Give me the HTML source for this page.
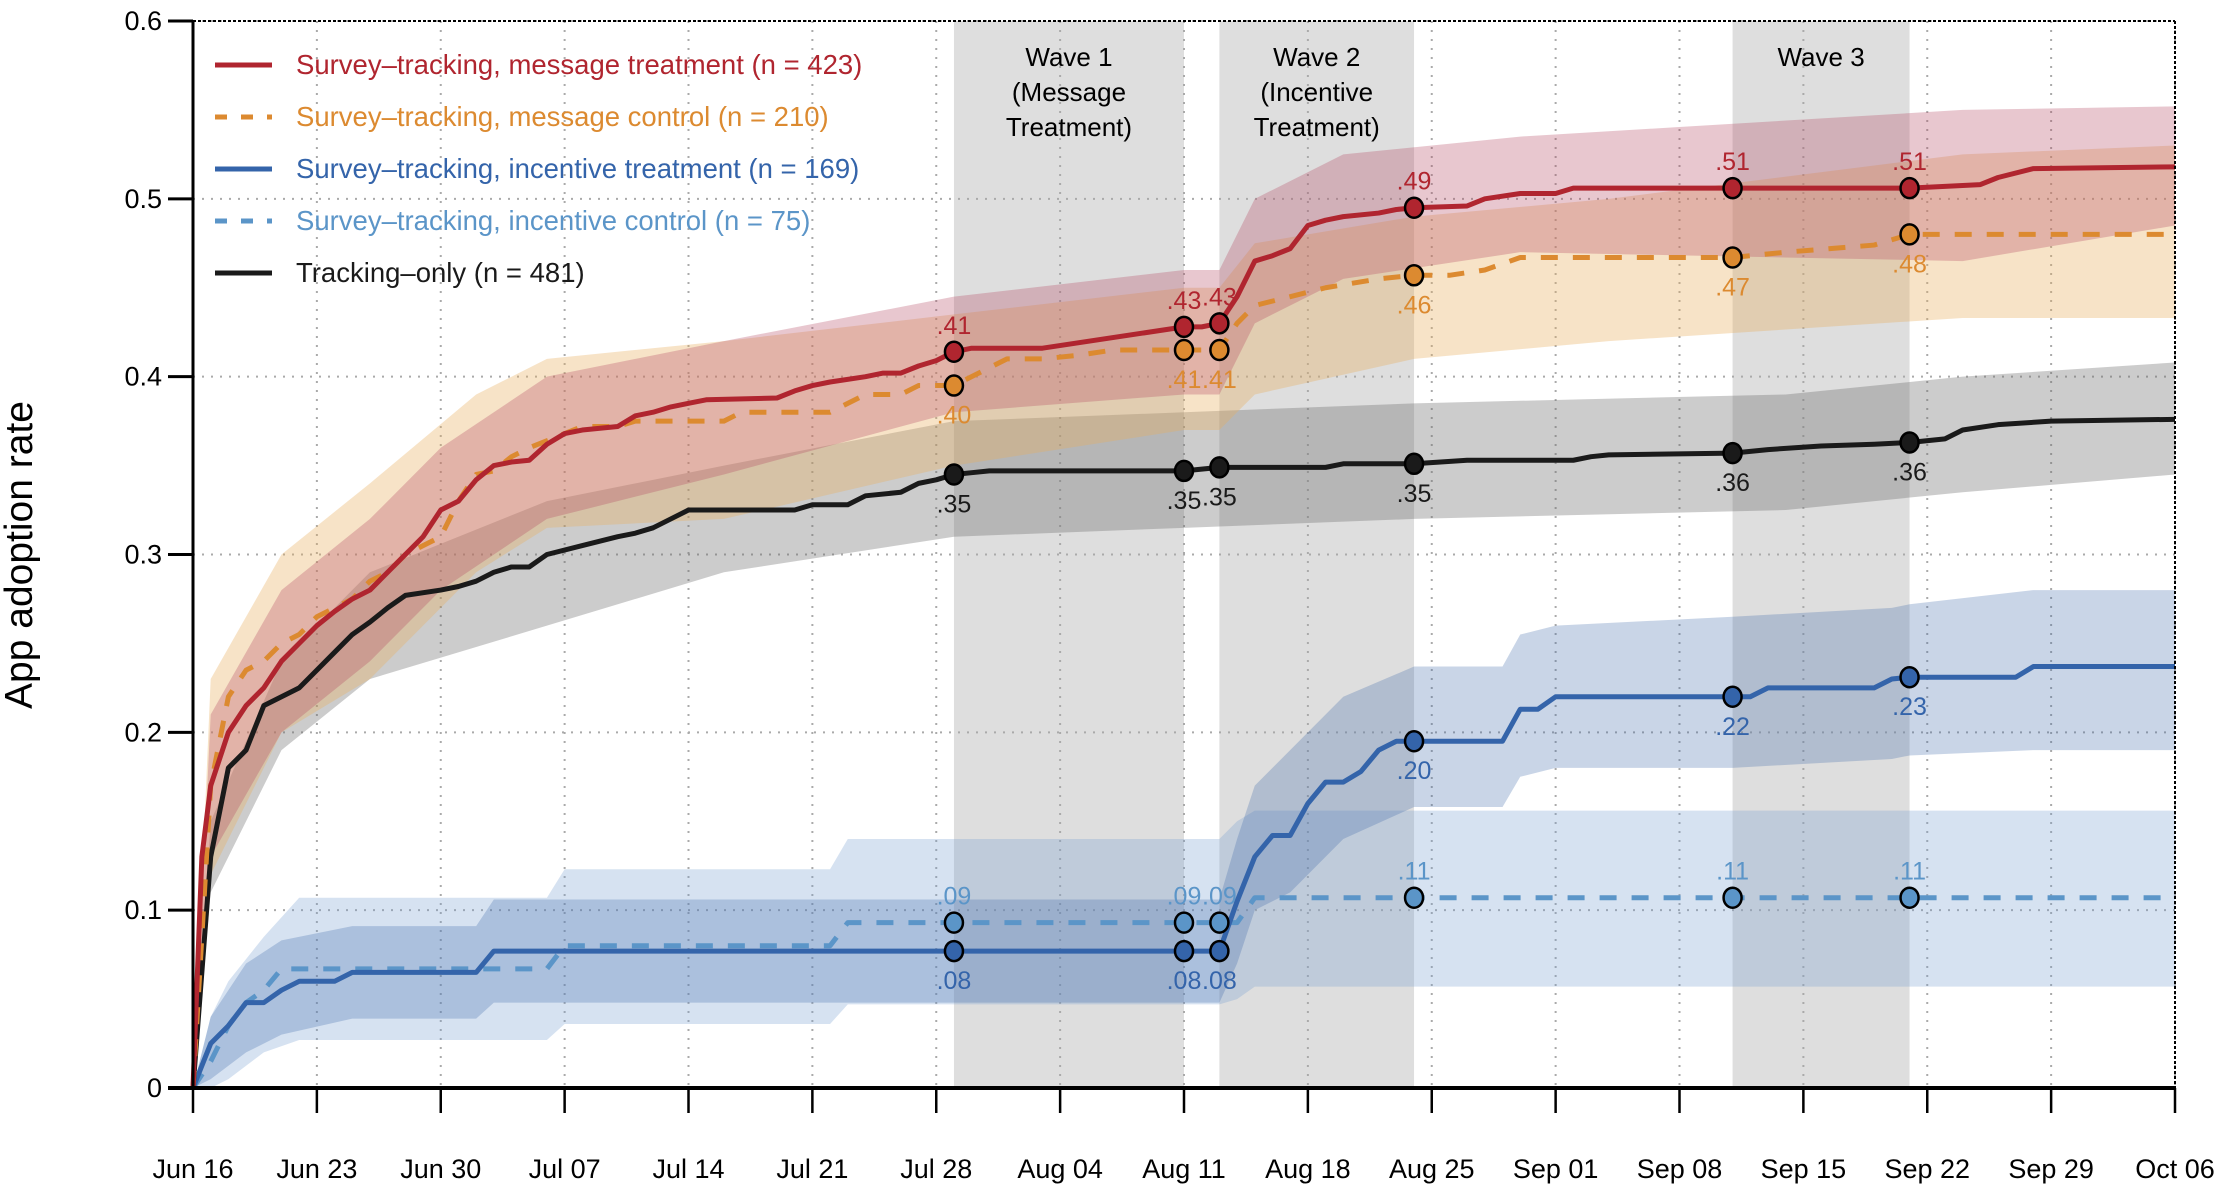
<!DOCTYPE html>
<html><head><meta charset="utf-8">
<style>
html,body{margin:0;padding:0;background:#fff;}
svg{display:block;font-family:"Liberation Sans",sans-serif;}
</style></head>
<body>
<svg id="chart" width="2222" height="1200" viewBox="0 0 2222 1200" xmlns="http://www.w3.org/2000/svg"></svg>
<script>
// ---- data ----
const xTickLabels = ["Jun 16","Jun 23","Jun 30","Jul 07","Jul 14","Jul 21","Jul 28","Aug 04","Aug 11","Aug 18","Aug 25","Sep 01","Sep 08","Sep 15","Sep 22","Sep 29","Oct 06"];
const yTickValues = [0,0.1,0.2,0.3,0.4,0.5,0.6];
const yTickLabels = ["0","0.1","0.2","0.3","0.4","0.5","0.6"];
const waveStart = [43,58,87];
const waveEnd = [56,69,97];
const waveTitles = [["Wave 1","(Message","Treatment)"],["Wave 2","(Incentive","Treatment)"],["Wave 3"]];
const markerDays = [43,56,58,69,87,97];

const redDays = [0,0.5,1,2,3,4,5,6,7,8,9,10,11,12,13,14,15,16,17,18,19,20,21,22,24,25,26,27,28,29,33,34,35,36,38,39,40,41,42,43,44,48,56,57,58,59,60,61,62,63,64,65,67,68,69,72,73,75,77,78,87,97,101,102,104,112];
const redVals = [0,0.13,0.17,0.2,0.215,0.225,0.24,0.25,0.26,0.268,0.275,0.28,0.29,0.3,0.31,0.325,0.33,0.342,0.35,0.352,0.353,0.362,0.368,0.37,0.372,0.378,0.38,0.383,0.385,0.387,0.388,0.392,0.395,0.397,0.4,0.402,0.402,0.406,0.409,0.414,0.416,0.416,0.428,0.428,0.43,0.445,0.465,0.468,0.472,0.485,0.488,0.49,0.492,0.494,0.495,0.496,0.5,0.503,0.503,0.506,0.506,0.506,0.508,0.512,0.517,0.518];
const orangeDays = [0,1,2,3,4,5,6,7,8,9,10,11,12,13,14,15,16,17,18,19,21,22,24,25,30,31,36,37,38,40,41,43,44,46,48,50,52,56,58,59,60,62,64,67,69,71,73,75,87,90,95,97,112];
const orangeVals = [0,0.17,0.22,0.235,0.24,0.25,0.255,0.265,0.27,0.275,0.285,0.29,0.3,0.305,0.31,0.33,0.345,0.347,0.355,0.36,0.368,0.372,0.372,0.375,0.375,0.38,0.38,0.385,0.39,0.39,0.395,0.395,0.4,0.41,0.41,0.412,0.415,0.415,0.415,0.43,0.44,0.445,0.45,0.455,0.457,0.457,0.46,0.467,0.467,0.47,0.474,0.48,0.48];
const blackDays = [0,1,2,3,4,5,6,7,8,9,10,11,12,14,15,16,17,18,19,20,22,24,25,26,27,28,34,35,37,38,40,41,42,43,44,45,56,58,64,65,69,72,78,79,80,87,89,92,95,97,99,100,102,105,112];
const blackVals = [0,0.13,0.18,0.19,0.215,0.22,0.225,0.235,0.245,0.255,0.262,0.27,0.277,0.28,0.282,0.285,0.29,0.293,0.293,0.3,0.305,0.31,0.312,0.315,0.32,0.325,0.325,0.328,0.328,0.333,0.335,0.34,0.342,0.345,0.346,0.347,0.347,0.349,0.349,0.351,0.351,0.353,0.353,0.355,0.356,0.357,0.359,0.361,0.362,0.363,0.365,0.37,0.373,0.375,0.376];
const blueDays = [0,1,2,3,4,5,6,8,9,16,17,56,58,59,60,61,62,63,64,65,66,67,68,69,74,75,76,77,87,88,89,95,96,97,103,104,112];
const blueVals = [0,0.025,0.035,0.048,0.048,0.055,0.06,0.06,0.065,0.065,0.077,0.077,0.077,0.105,0.13,0.142,0.142,0.16,0.172,0.172,0.178,0.19,0.195,0.195,0.195,0.213,0.213,0.22,0.22,0.22,0.225,0.225,0.23,0.231,0.231,0.237,0.237];
const ltblueDays = [0,1,2,3,4,5,20,21,36,37,58,59,60,112];
const ltblueVals = [0,0.015,0.035,0.048,0.055,0.067,0.067,0.08,0.08,0.093,0.093,0.093,0.107,0.107];

const redBandDays = [0,1,5,10,14,20,30,43,56,58,60,65,75,100,112];
const redBandHi = [0,0.21,0.28,0.32,0.36,0.4,0.42,0.445,0.46,0.46,0.5,0.525,0.535,0.55,0.552];
const redBandLo = [0,0.13,0.2,0.24,0.28,0.32,0.345,0.38,0.39,0.39,0.43,0.455,0.47,0.465,0.485];
const orangeBandDays = [0,1,5,10,16,20,30,43,56,58,60,69,80,100,112];
const orangeBandHi = [0,0.23,0.3,0.34,0.39,0.41,0.42,0.435,0.45,0.45,0.475,0.49,0.5,0.525,0.53];
const orangeBandLo = [0,0.12,0.2,0.23,0.29,0.315,0.32,0.35,0.37,0.37,0.39,0.41,0.42,0.433,0.433];
const grayBandDays = [0,1,5,10,20,30,43,56,69,90,100,112];
const grayBandHi = [0,0.15,0.24,0.29,0.33,0.35,0.375,0.38,0.385,0.39,0.4,0.408];
const grayBandLo = [0,0.11,0.19,0.23,0.26,0.29,0.31,0.315,0.32,0.325,0.335,0.345];
const blueBandDays = [0,1,3,5,9,16,17,58,59,60,62,65,69,74,75,77,87,96,97,104,112];
const blueBandHi = [0,0.04,0.07,0.083,0.091,0.091,0.106,0.106,0.14,0.17,0.19,0.22,0.237,0.237,0.255,0.26,0.265,0.27,0.272,0.28,0.28];
const blueBandLo = [0,0.005,0.02,0.03,0.039,0.039,0.048,0.048,0.07,0.1,0.11,0.14,0.158,0.158,0.175,0.18,0.18,0.185,0.187,0.19,0.19];
const ltBandDays = [0,1,2,4,6,20,21,36,37,58,59,60,112];
const ltBandHi = [0,0.04,0.06,0.085,0.107,0.107,0.123,0.123,0.14,0.14,0.15,0.156,0.156];
const ltBandLo = [0,0,0.005,0.02,0.027,0.027,0.036,0.036,0.047,0.047,0.05,0.057,0.057];

const redLabels = [".41",".43",".43",".49",".51",".51"];
const orangeLabels = [".40",".41",".41",".46",".47",".48"];
const blackLabels = [".35",".35",".35",".35",".36",".36"];
const blueLabels = [".08",".08",".08",".20",".22",".23"];
const ltblueLabels = [".09",".09",".09",".11",".11",".11"];

// ---- scales ----
const X0=193, X1=2175, Y0=1088, Y1=21, DMAX=112, VMAX=0.6;
function xs(d){return X0+(X1-X0)*d/DMAX;}
function ys(v){return Y0-(Y0-Y1)*v/VMAX;}
function interp(days,vals,d){
  for(let i=0;i<days.length-1;i++){ if(d>=days[i]&&d<=days[i+1]){const t=(d-days[i])/(days[i+1]-days[i]||1);return vals[i]+t*(vals[i+1]-vals[i]);} }
  return vals[vals.length-1];
}
const svg=document.getElementById('chart');
const NS='http://www.w3.org/2000/svg';
function mk(tag,attrs,parent){const e=document.createElementNS(NS,tag);for(const k in attrs)e.setAttribute(k,attrs[k]);(parent||svg).appendChild(e);return e;}

waveStart.forEach((s,i)=>{
  const r=mk('rect',{x:xs(s),y:Y1,width:xs(waveEnd[i])-xs(s),height:Y0-Y1,fill:'#dedede'});
  
  
});
xTickLabels.forEach((t,i)=>{
  const g=mk('line',{x1:xs(i*7),x2:xs(i*7),y1:Y1,y2:Y0,stroke:'#aaa','stroke-width':2,'stroke-dasharray':'2 7'});
  
  
});
yTickValues.forEach(v=>{
  const g=mk('line',{x1:X0,x2:X1,y1:ys(v),y2:ys(v),stroke:'#aaa','stroke-width':2,'stroke-dasharray':'2 7'});
  
  
});
function band(days,hi,lo,fill,name){
  let p='';days.forEach((d,i)=>{p+=(i?'L':'M')+xs(d)+','+ys(hi[i]);});
  for(let i=days.length-1;i>=0;i--)p+='L'+xs(days[i])+','+ys(lo[i]);
  const e=mk('path',{d:p+'Z',fill:fill});
  
  
}
band(ltBandDays,ltBandHi,ltBandLo,'rgba(120,160,208,0.3)','incentive-control-ci');
band(blueBandDays,blueBandHi,blueBandLo,'rgba(60,105,170,0.28)','incentive-treatment-ci');
band(grayBandDays,grayBandHi,grayBandLo,'rgba(110,110,110,0.35)','tracking-only-ci');
band(orangeBandDays,orangeBandHi,orangeBandLo,'rgba(232,175,95,0.35)','message-control-ci');
band(redBandDays,redBandHi,redBandLo,'rgba(180,70,95,0.3)','message-treatment-ci');
function line(days,vals,col,dash,name){
  let p='';days.forEach((d,i)=>{p+=(i?'L':'M')+xs(d)+','+ys(vals[i]);});
  const a={d:p,fill:'none',stroke:col,'stroke-width':5,'stroke-linejoin':'round'};
  if(dash)a['stroke-dasharray']=dash;
  const e=mk('path',a);
  
  
}
line(ltblueDays,ltblueVals,'#5b95c8','17 15','incentive-control-line');
line(blueDays,blueVals,'#3464aa',null,'incentive-treatment-line');
line(blackDays,blackVals,'#1a1a1a',null,'tracking-only-line');
line(orangeDays,orangeVals,'#dc8a30','17 15','message-control-line');
line(redDays,redVals,'#b0252f',null,'message-treatment-line');
function markers(days,vals,fill,labels,above,tcol,name){
  markerDays.forEach((d,i)=>{
    const v=interp(days,vals,d);
    const c=mk('ellipse',{cx:xs(d),cy:ys(v),rx:9,ry:10,fill:fill,stroke:'#000','stroke-width':2.5});
    
    
    const t=mk('text',{x:xs(d),y:above?ys(v)-18:ys(v)+38,'text-anchor':'middle','font-size':25,fill:tcol});
    t.textContent=labels[i];
    
    
  });
}
markers(ltblueDays,ltblueVals,'#5b95c8',ltblueLabels,true,'#5b95c8','incentive-control');
markers(blueDays,blueVals,'#3464aa',blueLabels,false,'#3464aa','incentive-treatment');
markers(blackDays,blackVals,'#1a1a1a',blackLabels,false,'#1a1a1a','tracking-only');
markers(orangeDays,orangeVals,'#dc8a30',orangeLabels,false,'#dc8a30','message-control');
markers(redDays,redVals,'#b0252f',redLabels,true,'#b0252f','message-treatment');
waveTitles.forEach((lines,i)=>{
  lines.forEach((s,j)=>{
    const t=mk('text',{x:(xs(waveStart[i])+xs(waveEnd[i]))/2,y:66+j*35,'text-anchor':'middle','font-size':26,fill:'#000'});
    t.textContent=s;
    
    
  });
});
mk('line',{x1:X0,x2:X1,y1:Y1,y2:Y1,stroke:'#000','stroke-width':2,'stroke-dasharray':'3 2'});
mk('line',{x1:X1,x2:X1,y1:Y1,y2:Y0,stroke:'#000','stroke-width':2,'stroke-dasharray':'3 2'});
const ya=mk('line',{x1:X0,x2:X0,y1:Y1,y2:Y0,stroke:'#000','stroke-width':3});


const xa=mk('line',{x1:X0-25,x2:X1,y1:Y0,y2:Y0,stroke:'#000','stroke-width':4});


yTickValues.forEach((v,i)=>{
  mk('line',{x1:X0-25,x2:X0,y1:ys(v),y2:ys(v),stroke:'#000','stroke-width':3});
  const t=mk('text',{x:162,y:ys(v)+9,'text-anchor':'end','font-size':27,fill:'#000'});
  t.textContent=yTickLabels[i];
  
  
});
xTickLabels.forEach((s,i)=>{
  mk('line',{x1:xs(i*7),x2:xs(i*7),y1:Y0,y2:Y0+25,stroke:'#000','stroke-width':2.5});
  const t=mk('text',{x:xs(i*7),y:1178,'text-anchor':'middle','font-size':27,fill:'#000'});
  t.textContent=s;
  
  
});
const yt=mk('text',{x:0,y:0,transform:'translate(32,555) rotate(-90)','text-anchor':'middle','font-size':39,fill:'#000'});
yt.textContent='App adoption rate';


const legNames=["Survey\u2013tracking, message treatment (n = 423)","Survey\u2013tracking, message control (n = 210)","Survey\u2013tracking, incentive treatment (n = 169)","Survey\u2013tracking, incentive control (n = 75)","Tracking\u2013only (n = 481)"];
const legCols=['#b0252f','#dc8a30','#3464aa','#5b95c8','#1a1a1a'];
const legDash=[null,'12 14',null,'12 14',null];
legNames.forEach((s,i)=>{
  const y=65+i*52;
  const a={x1:215,x2:272,y1:y,y2:y,stroke:legCols[i],'stroke-width':5};
  if(legDash[i])a['stroke-dasharray']=legDash[i];
  const l=mk('line',a);
  
  
  const t=mk('text',{x:296,y:y+9,'font-size':27.5,fill:legCols[i]});
  t.textContent=s;
  
  
});
</script>
</body></html>
